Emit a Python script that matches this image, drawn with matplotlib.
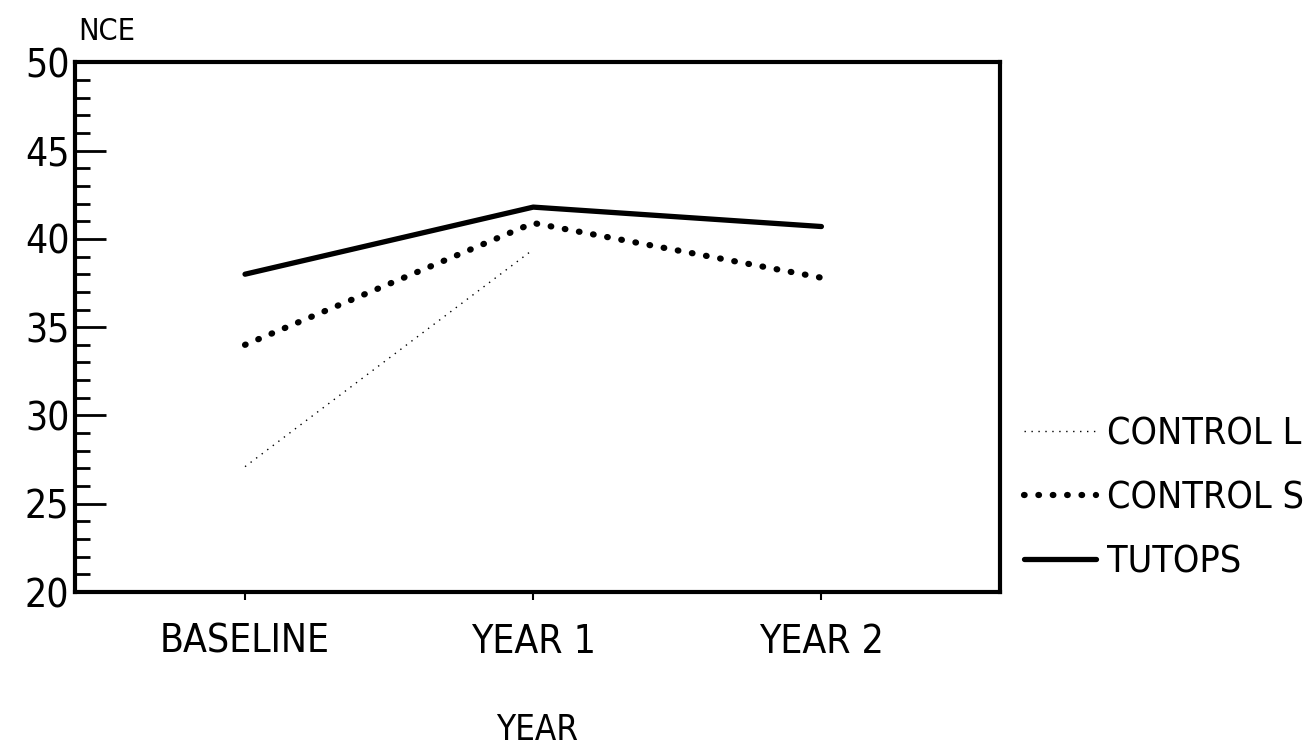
import matplotlib.pyplot as plt
from matplotlib.ticker import MultipleLocator

# adatok
years = ['BASELINE', 'YEAR 1', 'YEAR 2']
control_l = [27.1, 39.4]
control_s = [34.0, 40.9, 37.8]
tutops = [38.0, 41.8, 40.7]

plt.rcParams['font.family'] = ['DejaVu Sans']

fig = plt.figure(figsize=(13.09, 7.51), dpi=100)
ax = fig.add_axes([0.0573, 0.2117, 0.7067, 0.7053])

x = list(range(len(years)))
ax.plot(x[:2], control_l, c='black', linewidth=1.0, linestyle=(0, (1, 4)),
        label='CONTROL L')
ax.plot(x, control_s, c='black', linewidth=4.5, linestyle=(0, (0.1, 2.2)),
        dash_capstyle='round', label='CONTROL S')
ax.plot(x, tutops, c='black', linewidth=3.8, solid_capstyle='round',
        label='TUTOPS')

ax.set_xlim(-0.59, 2.62)
ax.set_ylim(20, 50)
ax.set_xticks(x)
ax.set_xticklabels(years, fontsize=28, fontstretch='condensed')
ax.yaxis.set_major_locator(MultipleLocator(5))
ax.yaxis.set_minor_locator(MultipleLocator(1))
for lab in ax.get_yticklabels():
    lab.set_fontstretch('condensed')
ax.tick_params(axis='y', which='major', direction='in', length=22, width=2,
               labelsize=28, pad=4)
ax.tick_params(axis='y', which='minor', direction='in', length=11, width=2)
ax.tick_params(axis='x', direction='out', length=6, width=1.5, pad=16)
for s in ax.spines.values():
    s.set_linewidth(3)

ax.text(0.003, 1.043, 'NCE', transform=ax.transAxes, fontsize=22,
        fontstretch='condensed', ha='left', va='baseline')
ax.set_xlabel('YEAR', fontsize=25, fontstretch='condensed', labelpad=38)

ax.legend(loc='center left', bbox_to_anchor=(1.01, 0.177), frameon=False,
          prop={'size': 27, 'stretch': 'condensed'}, handlelength=1.9,
          handletextpad=0.3, labelspacing=0.75, borderaxespad=0)

fig.savefig('out.png', dpi=100)
